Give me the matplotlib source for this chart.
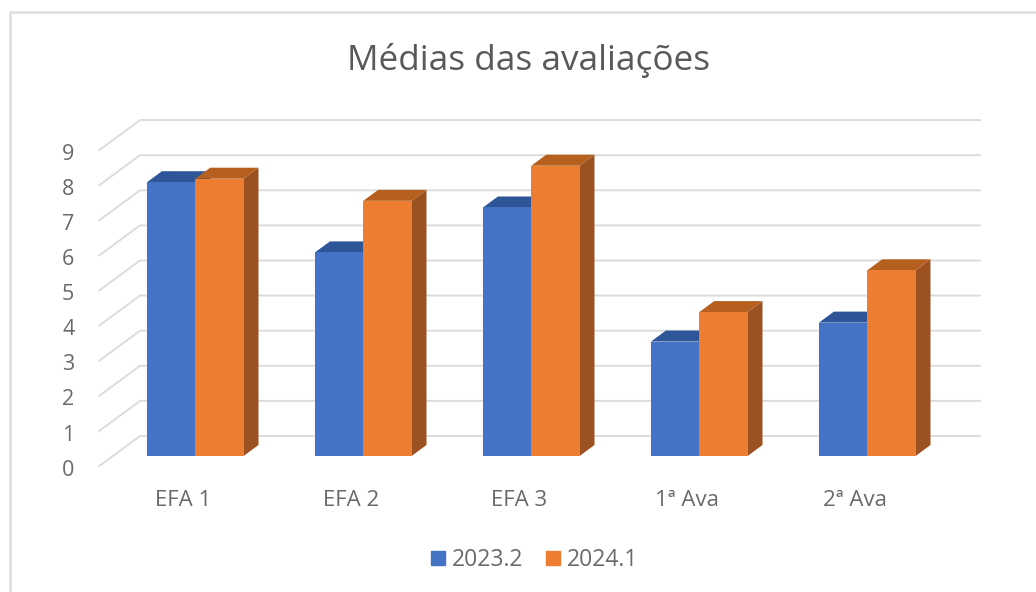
import matplotlib
matplotlib.use('Agg')
import matplotlib.pyplot as plt
from matplotlib.patches import Patch
from matplotlib.transforms import ScaledTranslation

plt.rcParams['font.family'] = ['Open Sans', 'DejaVu Sans']

categories = ['EFA 1', 'EFA 2', 'EFA 3', '1ª Ava', '2ª Ava']
values_2023 = [7.8, 5.8, 7.08, 3.26, 3.8]
values_2024 = [7.9, 7.27, 8.27, 4.1, 5.29]
series_names = ['2023.2', '2024.1']
value_ticks = [0, 1, 2, 3, 4, 5, 6, 7, 8, 9]

W, H = 1036, 592
UNIT_X = 168.0   # px per category
UNIT_Y = 35.1    # px per value
DEPTH_X = 40.7 / UNIT_X
DEPTH_Y = 30.0 / UNIT_Y
BAR_W = 0.2875
GAP = 0.203
D0, D1 = 1 / 3, 0.7  # bar depth range, 0 = front of floor, 1 = back wall

BLUE = ['#4472C4', '#2E5597', '#264478']
ORANGE = ['#ED7D31', '#B5601F', '#9C5120']
GRID = '#DCDCDC'
TEXT = '#6A6A6A'


def project(x, v, d):
    # shear a point backwards to fake the 3D look
    return x + d * DEPTH_X, v + d * DEPTH_Y


def draw_bar(ax, x, v, colors, z):
    x0, x1 = x, x + BAR_W
    corners_front = [project(x0, 0, D0), project(x1, 0, D0), project(x1, v, D0), project(x0, v, D0)]
    corners_top = [project(x0, v, D0), project(x1, v, D0), project(x1, v, D1), project(x0, v, D1)]
    corners_side = [project(x1, 0, D0), project(x1, 0, D1), project(x1, v, D1), project(x1, v, D0)]
    for pts, c in [(corners_side, colors[2]), (corners_top, colors[1]), (corners_front, colors[0])]:
        ax.fill(*zip(*pts), color=c, lw=0, zorder=z, clip_on=False)


fig = plt.figure(figsize=(W / 100, H / 100), dpi=100)
left, right, top, floor = 99.3, 980.0, 120.0, 466.0
ax = fig.add_axes([left / W, 1 - floor / H, (right - left) / W, (floor - top) / H])
ax.set_xlim(0, (right - left) / UNIT_X)
ax.set_ylim(0, (floor - top) / UNIT_Y)
ax.patch.set_alpha(0)
for s in ax.spines.values():
    s.set_visible(False)

# gridlines on back wall and the diagonal side wall
for v in value_ticks:
    p_front = project(0, v, 0)
    p_back = project(0, v, 1)
    p_end = (ax.get_xlim()[1], p_back[1])
    ax.plot([p_front[0], p_back[0], p_end[0]], [p_front[1], p_back[1], p_end[1]],
            color=GRID, lw=1.4, zorder=1, clip_on=False, solid_joinstyle='miter')

for i in range(len(categories)):
    draw_bar(ax, i + GAP, values_2023[i], BLUE, 2 + i * 2)
    draw_bar(ax, i + GAP + BAR_W, values_2024[i], ORANGE, 3 + i * 2)

ax.set_yticks(value_ticks)
ax.set_yticklabels([str(v) for v in value_ticks], fontsize=15.5, color=TEXT, va='center')
ax.set_xticks([i + 0.5 for i in range(len(categories))])
ax.set_xticklabels(categories, fontsize=16, color=TEXT)
ax.tick_params(axis='y', length=0, pad=18)
ax.tick_params(axis='x', length=0, pad=17)

# value labels sit a little lower than their gridline ends
nudge = ScaledTranslation(0, -3 / 72, fig.dpi_scale_trans)
for lab in ax.get_yticklabels():
    lab.set_transform(lab.get_transform() + nudge)

fig.text(529 / W, 1 - 60 / H, 'Médias das avaliações', fontsize=25.3, color='#595959',
         ha='center', va='center')

handles = [Patch(color=BLUE[0]), Patch(color=ORANGE[0])]
fig.legend(handles, series_names, loc='center', bbox_to_anchor=(534.5 / W, 1 - 560 / H),
           ncol=2, frameon=False, fontsize=16.5, labelcolor=TEXT,
           handlelength=0.61, handleheight=0.61, handletextpad=0.3, columnspacing=0.96)

# chart frame, only top and left are inside the crop
fig.add_artist(plt.Line2D([10 / W, 10 / W, 1], [0, 1 - 12 / H, 1 - 12 / H],
                          color='#DEDEDE', lw=1.8, transform=fig.transFigure))

fig.savefig('out.png', dpi=100)
